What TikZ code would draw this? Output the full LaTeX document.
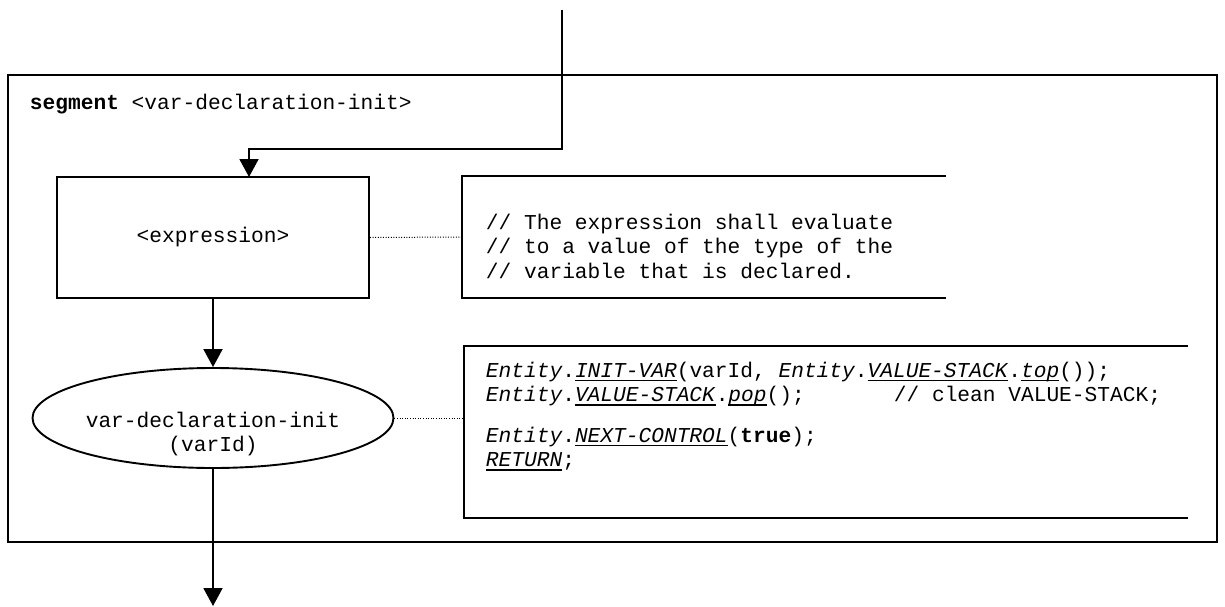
\documentclass[tikz,border=0pt]{standalone}
\usepackage{fontspec}
\setmainfont{Liberation Mono}
\setmonofont{Liberation Mono}
\usetikzlibrary{arrows.meta,shapes.geometric}
\newsavebox\ulbox
\newcommand\ulit[1]{\sbox\ulbox{\textit{#1}}\rlap{\rule[-4pt]{\wd\ulbox}{1.2pt}}\usebox\ulbox}
\begin{document}
\frenchspacing
\begin{tikzpicture}[x=1pt,y=-1pt,
  line width=1.9pt,
  txt/.style={font=\fontsize{21.2}{24.5}\selectfont, inner sep=0pt},
  procbox/.style={draw, rectangle, minimum width=312pt, minimum height=121pt, inner sep=0pt, txt},
  opell/.style={draw, ellipse, minimum width=361pt, minimum height=100pt, inner sep=0pt},
  frame/.style={rectangle, inner sep=0pt},
  flow/.style={-{Triangle[length=18pt,width=19pt]}},
  assoc/.style={line width=1pt, dash pattern=on 1pt off 1.6pt},
]
\useasboundingbox (0,0) rectangle (1225,607);

% segment frame
\node[frame, draw, minimum width=1209pt, minimum height=467pt] (seg) at (612.5,308.5) {};
\node[txt, anchor=base west] (segl) at (29,110) {\textbf{segment} <var-declaration-init>};

% expression box
\node[procbox] (expr) at (213,237.5) {<expression>};
\coordinate (src) at (562,10);
\coordinate (exprin) at (249,177);
\draw[flow] (src) |- ([yshift=28pt]exprin) -- (exprin);

% comment 1
\node[frame, minimum width=482pt, minimum height=120pt] (c1) at (704,237) {};
\draw (c1.north east) -- (c1.north west) -- (c1.south west) -- (c1.south east);
\node[txt, anchor=base west, align=left] (c1t) at (485,278)
  {// The expression shall evaluate\\// to a value of the type of the\\// variable that is declared.};
\draw[assoc] (expr.east) -- (c1.west);

% operation ellipse
\node[opell] (op) at (213,418) {};
\node[txt, anchor=base, align=center] (opt) at (213,451.5) {var-declaration-init\\(varId)};
\draw[flow] (expr.south) -- (op.north);

% comment 2
\node[frame, minimum width=722pt, minimum height=170pt] (c2) at (826,432) {};
\draw (c2.north east) -- (c2.north west) -- (c2.south west) -- (c2.south east);
\node[txt, anchor=base west, align=left] (c2t) at (485,466.5)
  {\textit{Entity}.\ulit{INIT-VAR}(varId, \textit{Entity}.\ulit{VALUE-STACK}.\ulit{top}());\\
   \textit{Entity}.\ulit{VALUE-STACK}.\ulit{pop}();\phantom{0000000}// clean VALUE-STACK;\\[16pt]
   \textit{Entity}.\ulit{NEXT-CONTROL}(\textbf{true});\\
   \ulit{RETURN};};
\draw[assoc] (op.east) -- (op.east -| c2.west);

% exit
\coordinate (exit) at (213,606);
\draw[flow] (op.south) -- (exit);
\end{tikzpicture}
\end{document}
